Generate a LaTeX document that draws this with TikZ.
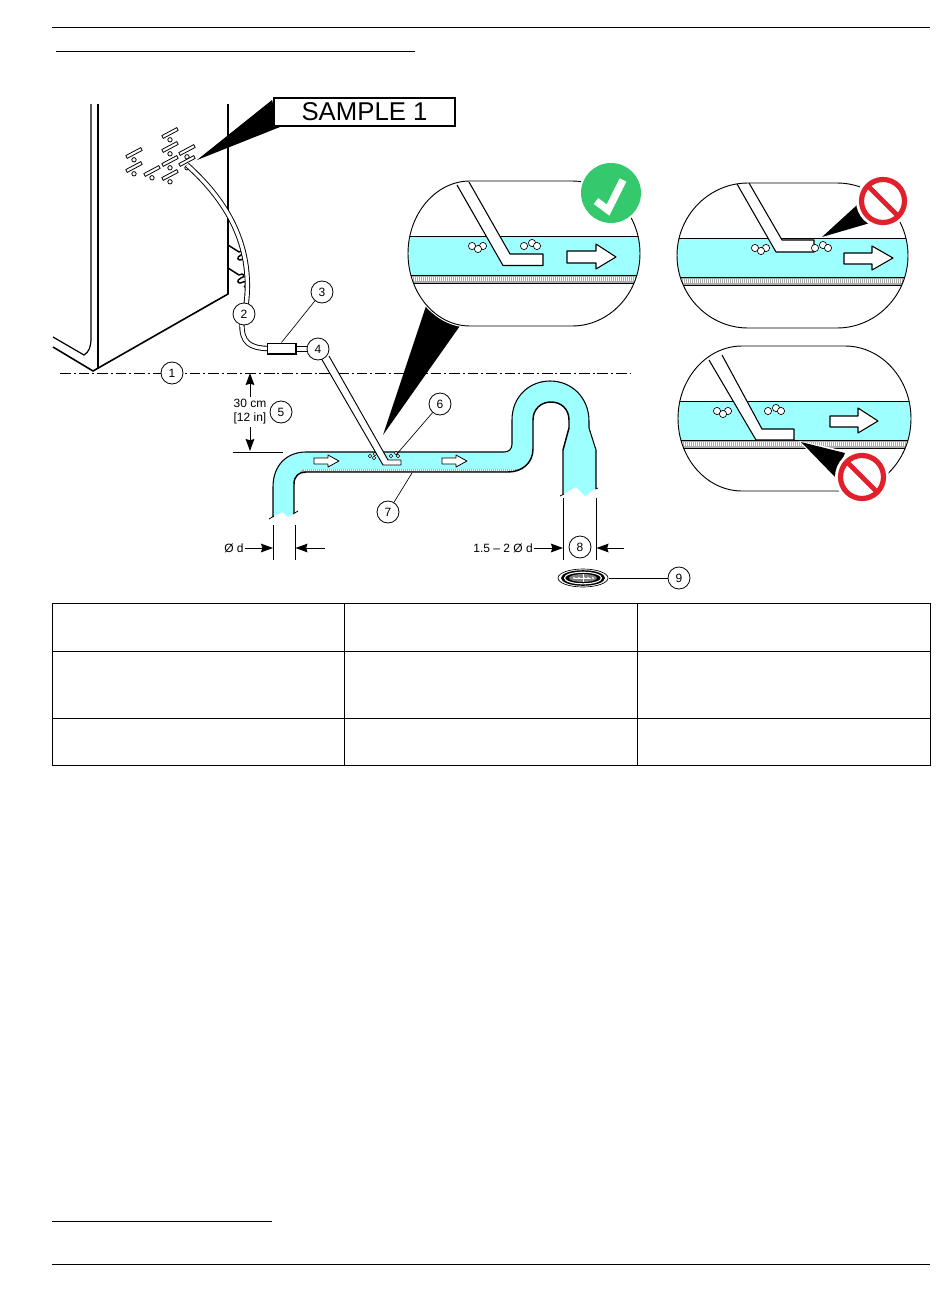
\documentclass[tikz,border=0pt]{standalone}
\usepackage{fontspec}
\setmainfont{Liberation Sans}
\usetikzlibrary{arrows.meta}
\definecolor{water}{HTML}{9EFFFF}
\definecolor{okgreen}{HTML}{35C96E}
\definecolor{nored}{HTML}{E0202B}
\definecolor{silt}{HTML}{ABABAB}
\tikzset{
  num/.style={circle,draw=black,fill=white,line width=.6pt,minimum size=16.5pt,inner sep=0pt,font=\fontsize{9}{9}\selectfont},
  lbl/.style={font=\fontsize{9}{10.5}\selectfont,inner sep=0pt,align=center},
  thin line/.style={line width=.5pt},
  rule/.style={line width=.7pt},
  tube/.style={preaction={draw=black,line width=4pt},draw=white,line width=2.6pt},
  dim/.style={line width=.7pt,-{Stealth[length=9pt,width=6.5pt,inset=1pt]}},
  bub/.style={draw=black,fill=white,line width=.5pt},
  body/.style={draw=black,fill=white,line width=.8pt,line join=round},
  lensline/.style={draw=black,line width=.7pt},
  halo/.style={draw=white,line width=2.4pt},
}
\newcommand\lensp[6]{(#5,#3) -- (#6,#3)
  .. controls ({#6+0.55*(#2-#6)},#3) and (#2,{#3+0.225*(#4-#3)}) .. (#2,{(#3+#4)/2})
  .. controls (#2,{#4-0.225*(#4-#3)}) and ({#6+0.55*(#2-#6)},#4) .. (#6,#4)
  -- (#5,#4)
  .. controls ({#5-0.55*(#5-#1)},#4) and (#1,{#4-0.225*(#4-#3)}) .. (#1,{(#3+#4)/2})
  .. controls (#1,{#3+0.225*(#4-#3)}) and ({#5-0.55*(#5-#1)},#3) .. (#5,#3) -- cycle}
\newcommand\lensfill[9]{%
  \begin{scope}
    \clip \lensp{#1}{#2}{#3}{#4}{#5}{#6};
    \fill[water] (#1,#7) rectangle (#2,#8);
    \fill[silt] (#1,#8) rectangle (#2,#9);
    \draw[white,line width=3pt,dash pattern=on .5pt off 1pt] (#1,{(#8+#9)/2}) -- (#2,{(#8+#9)/2});
    \draw[line width=.7pt] (#1,#7) -- (#2,#7) (#1,#8) -- (#2,#8) (#1,#9) -- (#2,#9);
  \end{scope}}
\newcommand\slotmark[2]{%
  \draw[line width=.6pt,fill=white,line join=round] (#1-8.2,#2+2.6) -- (#1+6.8,#2-5.4) -- (#1+8.2,#2-2.6) -- (#1-6.8,#2+5.4) -- cycle;
  \draw[line width=.6pt] (#1,#2+6.8) circle (2.2);}
\newcommand\bubbles[2]{%
  \draw[bub] (#1,#2) circle (3.6);
  \draw[bub] (#1+11,#2) circle (3.6);
  \draw[bub] (#1+6,#2+3) circle (3.6);}
\newcommand\bubblesb[2]{%
  \draw[bub] (#1,#2) circle (3.6);
  \draw[bub] (#1+8,#2-3) circle (3.6);
  \draw[bub] (#1+13,#2) circle (3.6);}
\newcommand\noentry[2]{%
  \fill[white] (#1,#2) circle (27);
  \draw[nored,line width=3.9pt] (#1,#2) circle (21.5);
  \draw[nored,line width=3.6pt] (#1-15,#2-15) -- (#1+15,#2+15);}
\begin{document}
\begin{tikzpicture}[x=.75pt,y=-.75pt]
\useasboundingbox (0,0) rectangle (950,1292);
\fill[white] (0,0) rectangle (950,1292);
% page rules
\draw[rule] (52,27) -- (930,27);
\draw[rule] (56,51) -- (415,51);
\draw[rule] (52,1221) -- (272,1221);
\draw[rule] (52,1264) -- (930,1264);
% table
\draw[line width=.7pt] (52,603) rectangle (930,765);
\draw[line width=.7pt] (52,651) -- (930,651) (52,718) -- (930,718) (344,603) -- (344,765) (637,603) -- (637,765);
% cabinet
\draw[line width=.9pt] (91,104) -- (91,338) .. controls (91,347) and (89,352) .. (84,355) -- (53,337);
\draw[line width=.9pt] (98,104) -- (98,369);
\draw[line width=1.2pt] (53,347) -- (93,371) -- (228,294) -- (228,104);
\foreach \sy in {0,23}{
  \draw[line width=1.1pt,line join=round] (228,245+\sy) -- (239,252+\sy) .. controls (244,249+\sy) and (246,254+\sy) .. (241,255+\sy)
   .. controls (236,257+\sy) and (237,262+\sy) .. (243,259+\sy) .. controls (247,257+\sy) and (248,262+\sy) .. (244,264+\sy);
}
% slots
\slotmark{134}{153}\slotmark{134}{167}\slotmark{152}{171}
\slotmark{170}{133}\slotmark{170}{147}\slotmark{170}{161}\slotmark{170}{175}
\slotmark{187}{150}\slotmark{187}{161}
% sample wedge and label
\fill[black] (197,160) -- (272,100) -- (280,127) -- cycle;
\node[draw=black,fill=white,line width=1.5pt,minimum width=136pt,minimum height=21pt,inner sep=0pt,font=\fontsize{19.3}{20}\selectfont] (sample) at (364.5,111.5) {SAMPLE 1};
% sample tube
\draw[tube] (187,165) .. controls (226,200) and (254,245) .. (246,306);
\draw[tube] (242,322) .. controls (241,343) and (250,348) .. (268,348.5);
% connector
\node[draw=black,fill=white,line width=.8pt,minimum width=21.7pt,minimum height=8.2pt,inner sep=0pt] (conn) at (281.5,348.5) {};
\draw[line width=.7pt] (296,346.5) -- (308,346.5) (296,351) -- (308,351);
% datum line
\coordinate (dL) at (60,373);
\coordinate (dR) at (630,373);
\draw[line width=.6pt,dash pattern=on 8pt off 2.2pt on 1.5pt off 2.2pt] (dL) -- (dR);
% main drain pipe
\def\pipeA{(273,517) -- (273,487) .. controls (273,465) and (287,452) .. (306,452) -- (504,452)
  .. controls (509,452) and (512,449) .. (512,444) -- (512,420)
  .. controls (512,396) and (530,381) .. (550,381)
  .. controls (572,381) and (589,398) .. (589,421) -- (589,428) -- (596,450) -- (596,488)}
\def\pipeB{(563,494) -- (563,450) -- (569,428) -- (569,420)
  .. controls (569,409) and (561,402) .. (551,402)
  .. controls (541,402) and (533,409) .. (533,420) -- (533,449)
  .. controls (533,463) and (522,472) .. (508,472) -- (306,472)
  .. controls (299,472) and (294,476) .. (294,484) -- (294,513)}
\fill[water] \pipeA -- (585,496) -- (576,487) -- \pipeB -- (288,517) -- (282,512) -- cycle;
\fill[silt] (303,469) -- (522,469) .. controls (518,471) and (513,472) .. (508,472) -- (300,472) -- cycle;
\draw[white,line width=1.6pt,dash pattern=on .5pt off 1pt] (304,470.3) -- (516,470.3);
\draw[line width=.8pt] \pipeA;
\draw[line width=1.1pt] \pipeB;
\draw[line width=.6pt] (269,519) -- (274,516);
\draw[line width=.6pt] (293,514) -- (298,511);
\draw[line width=.6pt] (560,496) -- (564,494);
\draw[line width=.6pt] (595,489) -- (598,488);
% flow arrows
\draw[body,line width=.6pt] (314,458) -- (328,458) -- (328,455) -- (339,461) -- (328,467) -- (328,464) -- (314,464) -- cycle;
\draw[body,line width=.6pt] (442,458) -- (456,458) -- (456,455) -- (467,461) -- (456,467) -- (456,464) -- (442,464) -- cycle;
% small bubbles
\foreach \bx/\by in {370/456,375/454,374/458,391/456,396/453,398/456}{\draw[line width=.35pt,fill=white] (\bx,\by) circle (1.7);}
% wedge to lens
\fill[black] (383,435) -- (427,303) -- (462,323) -- cycle;
% sampling nozzle in pipe
\draw[body,line width=.7pt] (321,358) -- (383,465) -- (401,465) -- (401,460) -- (388,460) -- (329,356);
% dimension marks
\draw[dim] (250,397) -- (250,373);
\draw[dim] (250,427) -- (250,451);
\draw[line width=.6pt] (233,452) -- (283,452);
\node[lbl] (h) at (250,412) {30 cm\\{}[12 in]};
\draw[line width=.6pt] (273,525) -- (273,560) (295,525) -- (295,560);
\node[lbl] (dsmall) at (234,548) {Ø d};
\coordinate (da) at (273,548); \coordinate (db) at (295.5,548); \coordinate (dc) at (325,548);
\draw[dim] (dsmall.east) ++(1,0) -- (da);
\draw[dim] (dc) -- (db);
\draw[line width=.6pt] (563,498) -- (563,560) (596,498) -- (596,560);
\node[lbl,anchor=east] (dbig) at (533,548) {1.5 – 2 Ø d};
\coordinate (de) at (563,548); \coordinate (df) at (596.5,548); \coordinate (dg) at (624,548);
\draw[dim] (dbig.east) ++(1,0) -- (de);
\draw[dim] (dg) -- (df);
% drain
\draw[line width=.5pt,fill=white] (583,578) ellipse (25 and 9);
\fill[black] (583,578) ellipse (22 and 7.8);
\draw[white,line width=.8pt] (583,578) ellipse (18.5 and 5.8);
\fill[gray] (583,578) ellipse (14 and 4);
\foreach \dx in {-9,-4,1,5,10}{\fill[white] (583+\dx,578) circle (1.1);}
\draw[white,line width=.5pt] (575,578) -- (591,578) (583,574) -- (583,582);
\node[inner sep=0pt,minimum width=39pt,minimum height=14pt] (drain) at (583,578) {};
% lens good
\draw[halo] \lensp{408}{640}{181}{326}{470}{572};
\fill[white] \lensp{408}{640}{181}{326}{470}{572};
\lensfill{408}{640}{181}{326}{470}{572}{236}{275}{283}
\bubbles{472}{246}\bubblesb{524}{246}
\draw[body] (457,185) -- (503,265.5) -- (543,265.5) -- (543,254) -- (510,254) -- (469,182);
\draw[body] (567,251) -- (596,251) -- (596,244) -- (616,257) -- (596,269) -- (596,263) -- (567,263) -- cycle;
\draw[lensline] \lensp{408}{640}{181}{326}{470}{572};
\fill[white] (611,193) circle (32);
\fill[okgreen] (611,193) circle (30);
\draw[white,line width=5.6pt,line join=miter] (596,201) -- (608,210) -- (623,180);
% lens bad top
\fill[white] \lensp{677}{908}{183}{328}{748}{837};
\lensfill{677}{908}{183}{328}{748}{837}{238}{277}{285}
\bubbles{755}{248}
\draw[body] (737,184) -- (776,252) -- (814,252) -- (814,240) -- (782,240) -- (749,183);
\bubblesb{815}{248}
\draw[body] (844,253) -- (872,253) -- (872,246) -- (893,258) -- (872,270) -- (872,264) -- (844,264) -- cycle;
\draw[lensline] \lensp{677}{908}{183}{328}{748}{837};
\fill[black] (822,237) -- (857,205) -- (870,223) -- cycle;
\noentry{883}{201}
% lens bad bottom
\fill[white] \lensp{678}{911}{346}{491}{742}{845};
\lensfill{678}{911}{346}{491}{742}{845}{401}{440}{448}
\bubbles{717}{411}\bubblesb{768}{411}
\draw[body] (709,360) -- (756,440) -- (794,440) -- (794,429) -- (762,429) -- (722,355);
\draw[body] (830,416) -- (858,416) -- (858,408) -- (878,421) -- (858,433) -- (858,427) -- (830,427) -- cycle;
\draw[lensline] \lensp{678}{911}{346}{491}{742}{845};
\fill[white] (799,441) -- (846,451) -- (834,480) -- cycle;
\fill[black] (801,442) -- (845,453) -- (835,477) -- cycle;
\noentry{862}{477}
% callouts
\node[num] (n1) at (172,373) {1};
\node[num] (n2) at (244,314) {2};
\node[num] (n3) at (322,292) {3};
\node[num] (n4) at (318,349) {4};
\node[num] (n5) at (281,412) {5};
\node[num] (n6) at (440,404) {6};
\node[num] (n7) at (388,512) {7};
\node[num] (n8) at (580,547) {8};
\node[num] (n9) at (679,578) {9};
\coordinate (t6) at (396,455);
\coordinate (t7) at (412,473);
\draw[thin line] (n3) -- (conn.north);
\draw[thin line] (n6) -- (t6);
\draw[thin line] (n7) -- (t7);
\draw[thin line] (n9) -- (drain.east);
\end{tikzpicture}
\end{document}
